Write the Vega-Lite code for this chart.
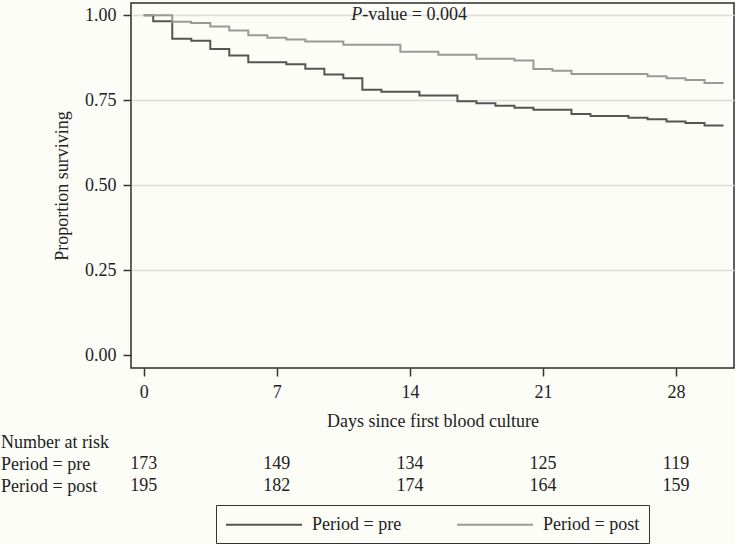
{
  "$schema": "https://vega.github.io/schema/vega-lite/v6.json",
  "background": "#fdfdf8",
  "padding": {"left": 0, "top": 2, "right": 0, "bottom": 0},
  "spacing": 0,
  "config": {
    "font": "Liberation Serif",
    "view": {"stroke": null},
    "axis": {
      "labelFont": "Liberation Serif",
      "titleFont": "Liberation Serif",
      "labelFontSize": 18,
      "titleFontSize": 18,
      "titleFontWeight": "normal",
      "labelColor": "#222",
      "titleColor": "#222",
      "tickColor": "#333",
      "tickWidth": 1.5
    },
    "legend": {
      "labelFont": "Liberation Serif",
      "labelFontSize": 18,
      "labelColor": "#222",
      "layout": {"bottom": {"anchor": "middle"}}
    }
  },
  "datasets": {
    "km": [
      {"day": 0, "surv": 1.0, "group": "Period = pre"},
      {"day": 0.5, "surv": 0.982, "group": "Period = pre"},
      {"day": 1.5, "surv": 0.931, "group": "Period = pre"},
      {"day": 2.5, "surv": 0.925, "group": "Period = pre"},
      {"day": 3.5, "surv": 0.901, "group": "Period = pre"},
      {"day": 4.5, "surv": 0.882, "group": "Period = pre"},
      {"day": 5.5, "surv": 0.862, "group": "Period = pre"},
      {"day": 7.5, "surv": 0.856, "group": "Period = pre"},
      {"day": 8.5, "surv": 0.843, "group": "Period = pre"},
      {"day": 9.5, "surv": 0.826, "group": "Period = pre"},
      {"day": 10.5, "surv": 0.815, "group": "Period = pre"},
      {"day": 11.5, "surv": 0.781, "group": "Period = pre"},
      {"day": 12.5, "surv": 0.775, "group": "Period = pre"},
      {"day": 14.5, "surv": 0.764, "group": "Period = pre"},
      {"day": 16.5, "surv": 0.747, "group": "Period = pre"},
      {"day": 17.5, "surv": 0.741, "group": "Period = pre"},
      {"day": 18.5, "surv": 0.734, "group": "Period = pre"},
      {"day": 19.5, "surv": 0.728, "group": "Period = pre"},
      {"day": 20.5, "surv": 0.722, "group": "Period = pre"},
      {"day": 22.5, "surv": 0.71, "group": "Period = pre"},
      {"day": 23.5, "surv": 0.704, "group": "Period = pre"},
      {"day": 25.5, "surv": 0.699, "group": "Period = pre"},
      {"day": 26.5, "surv": 0.694, "group": "Period = pre"},
      {"day": 27.5, "surv": 0.688, "group": "Period = pre"},
      {"day": 28.5, "surv": 0.683, "group": "Period = pre"},
      {"day": 29.5, "surv": 0.676, "group": "Period = pre"},
      {"day": 30.5, "surv": 0.676, "group": "Period = pre"},
      {"day": 0, "surv": 1.0, "group": "Period = post"},
      {"day": 1.5, "surv": 0.981, "group": "Period = post"},
      {"day": 2.5, "surv": 0.977, "group": "Period = post"},
      {"day": 3.5, "surv": 0.967, "group": "Period = post"},
      {"day": 4.5, "surv": 0.955, "group": "Period = post"},
      {"day": 5.5, "surv": 0.941, "group": "Period = post"},
      {"day": 6.5, "surv": 0.934, "group": "Period = post"},
      {"day": 7.5, "surv": 0.929, "group": "Period = post"},
      {"day": 8.5, "surv": 0.923, "group": "Period = post"},
      {"day": 10.5, "surv": 0.913, "group": "Period = post"},
      {"day": 13.5, "surv": 0.893, "group": "Period = post"},
      {"day": 15.5, "surv": 0.884, "group": "Period = post"},
      {"day": 17.5, "surv": 0.872, "group": "Period = post"},
      {"day": 19.5, "surv": 0.867, "group": "Period = post"},
      {"day": 20.5, "surv": 0.842, "group": "Period = post"},
      {"day": 21.5, "surv": 0.837, "group": "Period = post"},
      {"day": 22.5, "surv": 0.827, "group": "Period = post"},
      {"day": 26.5, "surv": 0.821, "group": "Period = post"},
      {"day": 27.5, "surv": 0.815, "group": "Period = post"},
      {"day": 28.5, "surv": 0.81, "group": "Period = post"},
      {"day": 29.5, "surv": 0.801, "group": "Period = post"},
      {"day": 30.5, "surv": 0.801, "group": "Period = post"}
    ],
    "risk": [
      {"day": 0, "row": "Period = pre", "n": 173},
      {"day": 7, "row": "Period = pre", "n": 149},
      {"day": 14, "row": "Period = pre", "n": 134},
      {"day": 21, "row": "Period = pre", "n": 125},
      {"day": 28, "row": "Period = pre", "n": 119},
      {"day": 0, "row": "Period = post", "n": 195},
      {"day": 7, "row": "Period = post", "n": 182},
      {"day": 14, "row": "Period = post", "n": 174},
      {"day": 21, "row": "Period = post", "n": 164},
      {"day": 28, "row": "Period = post", "n": 159}
    ]
  },
  "vconcat": [
    {
      "width": 603,
      "height": 365,
      "view": {"stroke": "#2b2b2b", "strokeWidth": 1.5},
      "layer": [
        {
          "data": {"name": "km"},
          "mark": {"type": "line", "interpolate": "step-after", "strokeWidth": 2},
          "encoding": {
            "x": {
              "field": "day", "type": "quantitative",
              "scale": {"domain": [-0.67, 31.05], "nice": false, "zero": false},
              "axis": {
                "values": [0, 7, 14, 21, 28],
                "grid": false, "domain": false,
                "tickSize": 8, "labelPadding": 7,
                "title": "Days since first blood culture",
                "titlePadding": 11
              }
            },
            "y": {
              "field": "surv", "type": "quantitative",
              "scale": {"domain": [-0.037, 1.036], "nice": false, "zero": false},
              "axis": {
                "values": [0, 0.25, 0.5, 0.75, 1],
                "format": ".2f",
                "grid": true,
                "gridColor": "#dcdcdc",
                "gridWidth": 1.5,
                "gridOpacity": {"condition": {"test": "datum.value === 0", "value": 0}, "value": 1},
                "domain": false,
                "tickSize": 8, "labelPadding": 7,
                "title": "Proportion surviving",
                "titlePadding": 13
              }
            },
            "color": {
              "field": "group", "type": "nominal",
              "scale": {"domain": ["Period = pre", "Period = post"], "range": ["#555555", "#999999"]},
              "legend": {
                "orient": "bottom",
                "direction": "horizontal",
                "title": null,
                "symbolType": "M-1,0H7",
                "symbolSize": 361,
                "symbolStrokeWidth": 2,
                "strokeColor": "#333",
                "padding": 9,
                "columnPadding": 51,
                "labelOffset": 66,
                "offset": 8
              }
            }
          }
        },
        {
          "data": {"values": [{}]},
          "mark": {"type": "text", "align": "right", "baseline": "middle", "fontStyle": "italic", "fontSize": 18, "color": "#222", "font": "Liberation Serif"},
          "encoding": {
            "x": {"datum": 11.5, "type": "quantitative"},
            "y": {"datum": 1.0, "type": "quantitative"},
            "text": {"value": "P"}
          }
        },
        {
          "data": {"values": [{}]},
          "mark": {"type": "text", "align": "left", "baseline": "middle", "fontSize": 18, "color": "#222", "font": "Liberation Serif"},
          "encoding": {
            "x": {"datum": 11.5, "type": "quantitative"},
            "y": {"datum": 1.0, "type": "quantitative"},
            "text": {"value": "-value = 0.004"}
          }
        }
      ]
    },
    {
      "width": 603,
      "height": 66,
      "data": {"name": "risk"},
      "mark": {"type": "text", "fontSize": 18, "color": "#222", "baseline": "middle"},
      "encoding": {
        "x": {
          "field": "day", "type": "quantitative",
          "scale": {"domain": [-0.67, 31.05], "nice": false, "zero": false},
          "axis": null
        },
        "y": {
          "field": "row", "type": "ordinal",
          "scale": {"domain": ["Number at risk", "Period = pre", "Period = post"], "paddingInner": 0, "paddingOuter": 0},
          "axis": {
            "title": null, "domain": false, "ticks": false, "tickSize": 0,
            "labelAlign": "left", "labelPadding": 130.5, "labelBaseline": "middle"
          }
        },
        "text": {"field": "n", "type": "quantitative"}
      }
    }
  ]
}
